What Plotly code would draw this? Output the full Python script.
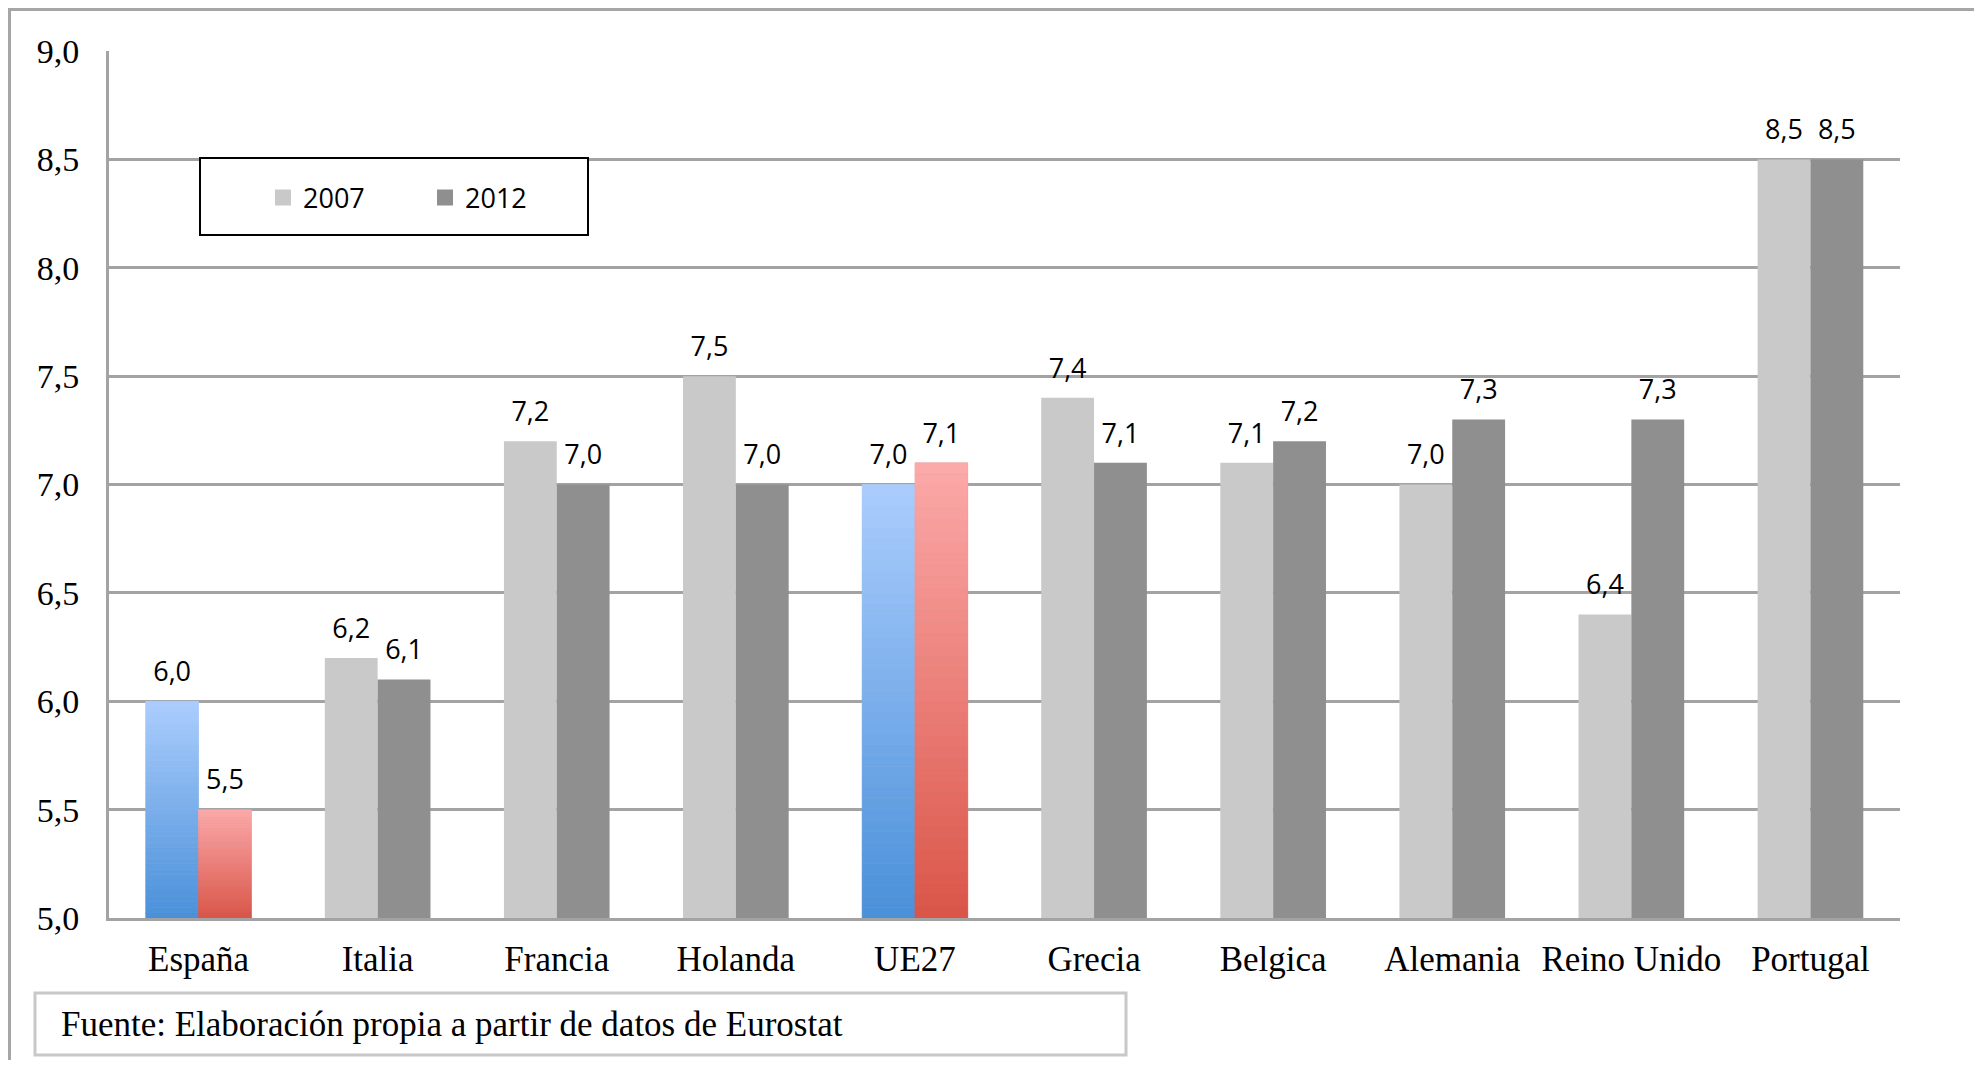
"""Bar chart: 2007 vs 2012 by country (Eurostat)."""

import plotly.graph_objects as go

# ---- data -----------------------------------------------------------------
countries = ["España", "Italia", "Francia", "Holanda", "UE27",
             "Grecia", "Belgica", "Alemania", "Reino Unido", "Portugal"]
values_2007 = [6.0, 6.2, 7.2, 7.5, 7.0, 7.4, 7.1, 7.0, 6.4, 8.5]
values_2012 = [5.5, 6.1, 7.0, 7.0, 7.1, 7.1, 7.2, 7.3, 7.3, 8.5]
highlighted = ["España", "UE27"]
y_ticks = [5.0, 5.5, 6.0, 6.5, 7.0, 7.5, 8.0, 8.5, 9.0]
source_note = "Fuente: Elaboración propia a partir de datos de Eurostat"

# ---- style ----------------------------------------------------------------
GRAY_2007 = "#c9c9c9"
GRAY_2012 = "#8f8f8f"
BLUE_TOP, BLUE_BOTTOM = (171, 205, 253), (74, 144, 217)
RED_TOP, RED_BOTTOM = (252, 170, 170), (218, 85, 72)
GRID = "#a3a3a3"
SERIF = "Liberation Serif"
SANS = "Open Sans"
Y_MIN, Y_MAX = 5.0, 9.0
N_STEPS = 40

# page has an 8px body margin; figure sized so it fits the window
PAGE_OFF = 8
W, H = 1966, 1052
L, R, T, B = 101, 74, 43, 142
PW, PH = W - L - R, H - T - B


def px_x(x):
    """page pixel x -> paper coordinate"""
    return (x - PAGE_OFF - L) / PW


def px_y(y):
    """page pixel y -> paper coordinate"""
    return (H - B - (y - PAGE_OFF)) / PH


def fmt(v):
    return f"{v:.1f}".replace(".", ",")


def blend(c0, c1, t):
    r, g, b = (round(a + (b_ - a) * t) for a, b_ in zip(c0, c1))
    return f"rgb({r},{g},{b})"


def label(v):
    # empty second line lifts the value a little above the bar top
    return f"<span style='font-size:27px'>{fmt(v)}</span><br> "


fig = go.Figure()

series = [
    ("2007", values_2007, GRAY_2007, BLUE_TOP, BLUE_BOTTOM),
    ("2012", values_2012, GRAY_2012, RED_TOP, RED_BOTTOM),
]

for name, vals, gray, top_c, bot_c in series:
    fig.add_trace(go.Bar(
        name=name, x=countries, y=vals, offsetgroup=name,
        marker=dict(color=gray, line=dict(width=0)),
        text=[label(v) for v in vals], textposition="outside",
        textfont=dict(family=SANS, size=11, color="#000000"),
        constraintext="none", cliponaxis=False,
        showlegend=False, hoverinfo="x+y",
    ))

# vertical gradient on the highlighted bars, drawn as thin stacked slices
for name, vals, gray, top_c, bot_c in series:
    hv = [vals[countries.index(c)] for c in highlighted]
    for k in range(N_STEPS):
        t = (k + 0.5) / N_STEPS
        col = blend(bot_c, top_c, t)
        fig.add_trace(go.Bar(
            x=highlighted,
            y=[(v - Y_MIN) / N_STEPS for v in hv],
            base=[Y_MIN + (v - Y_MIN) * k / N_STEPS for v in hv],
            offsetgroup=name, showlegend=False, hoverinfo="skip",
            marker=dict(color=col, line=dict(width=0.6, color=col)),
        ))

# legend entries (square swatches)
for name, vals, gray, top_c, bot_c in series:
    fig.add_trace(go.Scatter(
        name=name, x=[None], y=[None], mode="markers",
        marker=dict(symbol="square", size=17, color=gray),
        showlegend=True, hoverinfo="skip",
    ))

# legend frame, source box and outer frame
shapes = [
    dict(type="rect", xref="paper", yref="paper", layer="above",
         x0=px_x(200), x1=px_x(588), y0=px_y(235), y1=px_y(158),
         line=dict(color="#000000", width=2), fillcolor="#ffffff"),
    dict(type="rect", xref="paper", yref="paper",
         x0=px_x(35), x1=px_x(1126), y0=px_y(1055), y1=px_y(993),
         line=dict(color="#c8c8c8", width=3), fillcolor="rgba(0,0,0,0)"),
    dict(type="rect", xref="paper", yref="paper",
         x0=px_x(9.5), x1=px_x(1977), y0=px_y(1090), y1=px_y(9.5),
         line=dict(color="#a6a6a6", width=3), fillcolor="rgba(0,0,0,0)"),
]

fig.update_layout(
    width=W, height=H,
    margin=dict(l=L, r=R, t=T, b=B),
    paper_bgcolor="#ffffff", plot_bgcolor="#ffffff",
    barmode="group", bargap=0.41, bargroupgap=0,
    separators=",.",
    shapes=shapes,
    showlegend=True,
    legend=dict(
        orientation="h", x=px_x(263), y=px_y(198),
        xanchor="left", yanchor="middle",
        bgcolor="rgba(0,0,0,0)", borderwidth=0,
        font=dict(family=SANS, size=27, color="#000000"),
        itemwidth=30, itemsizing="trace", entrywidth=117,
        traceorder="normal",
    ),
    annotations=[dict(
        text=source_note, xref="paper", yref="paper",
        x=px_x(59), y=px_y(1024), xanchor="left", yanchor="middle",
        showarrow=False, font=dict(family=SERIF, size=35, color="#000000"),
    )],
    xaxis=dict(
        showline=True, linecolor=GRID, linewidth=3,
        tickfont=dict(family=SERIF, size=35, color="#000000"),
        ticks="", ticklabelstandoff=8, showgrid=False,
    ),
    yaxis=dict(
        range=[Y_MIN, Y_MAX], tickvals=y_ticks,
        ticktext=[fmt(v) for v in y_ticks],
        showline=True, linecolor=GRID, linewidth=3,
        showgrid=True, gridcolor=GRID, gridwidth=2.5, zeroline=False,
        tickfont=dict(family=SERIF, size=34, color="#000000"),
        ticks="", ticklabelstandoff=20,
    ),
)

fig.write_html("out.html")
